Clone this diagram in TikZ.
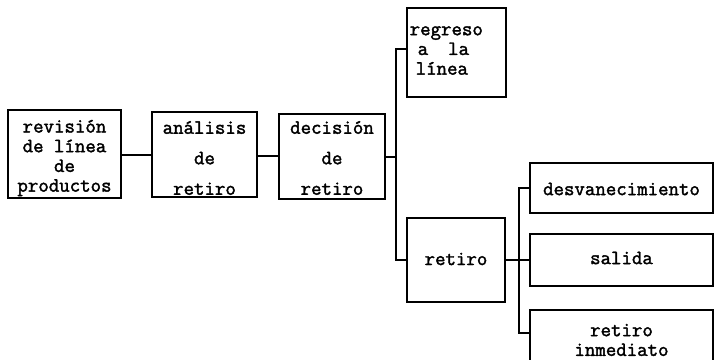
\documentclass[tikz,border=0pt]{standalone}
\usepackage{fontspec}
\newfontfamily\typew{Latin Modern Mono}[FakeBold=1.8]
\begin{document}
\begin{tikzpicture}[x=1pt,y=-1pt,
  box/.style={draw, line width=1.3pt, inner sep=0pt},
  txt/.style={inner sep=0pt, align=center,
    font=\typew\fontsize{20.3}{19.7}\selectfont},
  conn/.style={line width=1.3pt}]
\clip (0,0) rectangle (717,359);
\fill[white] (0,0) rectangle (717,359);
% boxes
\node[box, minimum width=113pt, minimum height=88pt] (rev) at (64.5,154) {};
\node[box, minimum width=105pt, minimum height=85pt] (ana) at (204.5,154.5) {};
\node[box, minimum width=106pt, minimum height=85pt] (dec) at (332,156.5) {};
\node[box, minimum width=99pt, minimum height=89pt] (reg) at (456.5,52.5) {};
\node[box, minimum width=98pt, minimum height=84pt] (ret) at (456,260) {};
\node[box, minimum width=183pt, minimum height=50pt] (des) at (621.5,188) {};
\node[box, minimum width=183pt, minimum height=52pt] (sal) at (621.5,260) {};
\node[box, minimum width=183pt, minimum height=62pt] (inm) at (621.5,341) {};
% texts
\node[txt] (revT) at (64.5,158) {revisión\\de línea\\de\\productos};
\node[txt] (anaT) at (204.5,158) {análisis\\[10.8pt]de\\[10.8pt]retiro};
\node[txt] (decT) at (332,158) {decisión\\[10.8pt]de\\[10.8pt]retiro};
\node[txt, align=left, anchor=west] (regT) at (409.5,50.5) {regreso\\\hspace{8pt}a\hspace{20pt}la\\\hspace{6pt}línea};
\node[txt] (retT) at (456,259) {retiro};
\node[txt] (desT) at (621.5,189) {desvanecimiento};
\node[txt] (salT) at (621.5,258) {salida};
\node[txt] (inmT) at (621.5,340) {retiro\\inmediato};
% connectors
\coordinate (j1) at (396,157);
\coordinate (j2) at (519,260);
\draw[conn] ([yshift=-1pt]rev.east) -- ([yshift=-1pt]rev.east -| ana.west);
\draw[conn] ([yshift=-1.5pt]ana.east) -- ([yshift=-1.5pt]ana.east -| dec.west);
\draw[conn] (dec.east |- j1) -- (j1);
\draw[conn] (j1) |- ([yshift=3.5pt]reg.west);
\draw[conn] (j1) |- (ret.west);
\draw[conn] (ret.east) -- (j2);
\draw[conn] (j2) |- (des.west);
\draw[conn] (j2) -- (sal.west);
\draw[conn] (j2) |- ([yshift=8pt]inm.west);
\end{tikzpicture}
\end{document}
